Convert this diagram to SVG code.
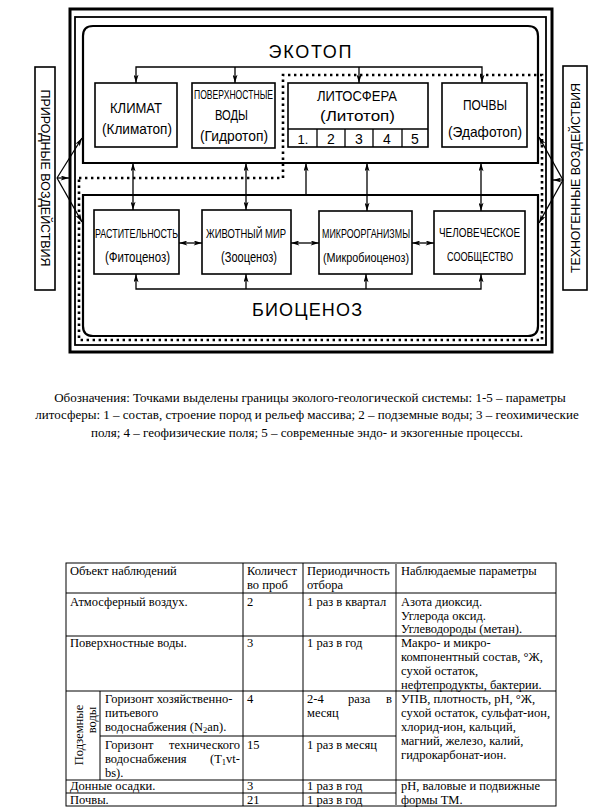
<svg xmlns="http://www.w3.org/2000/svg" width="613" height="809" viewBox="0 0 613 809">
<style>
.frame{fill:none;stroke:#000}
.box{fill:#fff;stroke:#000;stroke-width:1.6}
.dl{font-family:"Liberation Sans",Arial,sans-serif;fill:#000;text-anchor:middle}
.ln{fill:none;stroke:#000;stroke-width:1.3}
.dots{fill:none;stroke:#000;stroke-width:2.6;stroke-dasharray:2.4 3.6}
.tt{font-family:"Liberation Serif","Times New Roman",serif;font-size:12.5px;fill:#000}
.cap{font-family:"Liberation Serif","Times New Roman",serif;font-size:13px;fill:#000;text-anchor:middle}
.tl{stroke:#000;stroke-width:1;fill:none}
</style>
<defs>
<marker id="ah" viewBox="0 0 10 6" refX="10" refY="3" markerWidth="9" markerHeight="5" orient="auto-start-reverse" markerUnits="userSpaceOnUse"><path d="M0,0 L10,3 L0,6 L2.5,3 z" fill="#000"/></marker>
</defs>
<rect width="613" height="809" fill="#fff"/>

<g id="frames">
<rect class="frame" x="70" y="9" width="482" height="343" stroke-width="3"/>
<rect class="frame" x="75" y="17" width="471" height="328" stroke-width="1.8"/>
</g>

<g id="ecotop">
<path class="frame" stroke-width="2.2" d="M83,163 L83,36 Q83,26 93,26 L528,26 Q538,26 538,36 L538,163 Z"/>
<text class="dl" x="310" y="58" font-size="18" textLength="83" lengthAdjust="spacing">ЭКОТОП</text>
</g>

<g id="biocenosis">
<path class="frame" stroke-width="2.2" d="M83,195 L538,195 L538,326 Q538,336 528,336 L93,336 Q83,336 83,326 Z"/>
<text class="dl" x="307" y="316" font-size="18" textLength="110" lengthAdjust="spacing">БИОЦЕНОЗ</text>
</g>

<g id="boundary">
<path class="dots" d="M79,178 L283,178 L283,75 L542,75 L542,340 L79,340 Z"/>
</g>

<g id="climate">
<rect class="box" x="95" y="83" width="82" height="64"/>
<text class="dl" x="136" y="113" font-size="14" textLength="52" lengthAdjust="spacingAndGlyphs">КЛИМАТ</text>
<text class="dl" x="137" y="134" font-size="15" textLength="70" lengthAdjust="spacingAndGlyphs">(Климатоп)</text>
</g>

<g id="surface-water">
<rect class="box" x="192" y="83" width="83" height="65"/>
<text class="dl" x="233.5" y="99" font-size="12" textLength="79" lengthAdjust="spacingAndGlyphs">ПОВЕРХНОСТНЫЕ</text>
<text class="dl" x="231.5" y="120" font-size="14" textLength="33" lengthAdjust="spacingAndGlyphs">ВОДЫ</text>
<text class="dl" x="234" y="141" font-size="15" textLength="68" lengthAdjust="spacingAndGlyphs">(Гидротоп)</text>
</g>

<g id="lithosphere">
<rect class="box" x="288" y="83" width="140" height="64"/>
<line class="ln" x1="288" y1="129" x2="428" y2="129"/>
<line class="ln" x1="317" y1="129" x2="317" y2="147"/>
<line class="ln" x1="345" y1="129" x2="345" y2="147"/>
<line class="ln" x1="373" y1="129" x2="373" y2="147"/>
<line class="ln" x1="402" y1="129" x2="402" y2="147"/>
<text class="dl" x="357" y="101" font-size="15" textLength="80" lengthAdjust="spacingAndGlyphs">ЛИТОСФЕРА</text>
<text class="dl" x="357.5" y="121" font-size="15" textLength="75" lengthAdjust="spacingAndGlyphs">(Литотоп)</text>
<text class="dl" x="303" y="144" font-size="13">1.</text>
<text class="dl" x="331" y="144" font-size="14">2</text>
<text class="dl" x="359" y="144" font-size="14">3</text>
<text class="dl" x="387" y="144" font-size="14">4</text>
<text class="dl" x="415" y="144" font-size="14">5</text>
</g>

<g id="soils">
<rect class="box" x="442" y="83" width="85" height="64"/>
<text class="dl" x="485" y="110" font-size="14" textLength="44" lengthAdjust="spacingAndGlyphs">ПОЧВЫ</text>
<text class="dl" x="485" y="137" font-size="15" textLength="74" lengthAdjust="spacingAndGlyphs">(Эдафотоп)</text>
</g>

<g id="vegetation">
<rect class="box" x="94" y="210" width="85" height="64"/>
<text class="dl" x="136.5" y="238" font-size="12" textLength="83" lengthAdjust="spacingAndGlyphs">РАСТИТЕЛЬНОСТЬ</text>
<text class="dl" x="137.5" y="262" font-size="14" textLength="65" lengthAdjust="spacingAndGlyphs">(Фитоценоз)</text>
</g>

<g id="fauna">
<rect class="box" x="202" y="210" width="89" height="64"/>
<text class="dl" x="246" y="238" font-size="12" textLength="80" lengthAdjust="spacingAndGlyphs">ЖИВОТНЫЙ МИР</text>
<text class="dl" x="249" y="262" font-size="14" textLength="56" lengthAdjust="spacingAndGlyphs">(Зооценоз)</text>
</g>

<g id="microorganisms">
<rect class="box" x="319" y="211" width="93" height="63"/>
<text class="dl" x="366" y="238" font-size="12" textLength="88" lengthAdjust="spacingAndGlyphs">МИКРООРГАНИЗМЫ</text>
<text class="dl" x="366" y="262" font-size="13" textLength="86" lengthAdjust="spacingAndGlyphs">(Микробиоценоз)</text>
</g>

<g id="human-society">
<rect class="box" x="434" y="211" width="91" height="63"/>
<text class="dl" x="479.5" y="237" font-size="12" textLength="81" lengthAdjust="spacingAndGlyphs">ЧЕЛОВЕЧЕСКОЕ</text>
<text class="dl" x="480" y="261" font-size="12" textLength="66" lengthAdjust="spacingAndGlyphs">СООБЩЕСТВО</text>
</g>

<g id="natural-impacts">
<rect class="box" x="35" y="67" width="20" height="223"/>
<text class="dl" transform="translate(45,178) rotate(90)" x="0" y="4.5" font-size="13" textLength="177" lengthAdjust="spacingAndGlyphs">ПРИРОДНЫЕ ВОЗДЕЙСТВИЯ</text>
</g>

<g id="technogenic-impacts">
<rect class="box" x="563" y="66" width="24" height="224"/>
<text class="dl" transform="translate(575,178) rotate(-90)" x="0" y="4.5" font-size="13" textLength="190" lengthAdjust="spacingAndGlyphs">ТЕХНОГЕННЫЕ ВОЗДЕЙСТВИЯ</text>
</g>

<g id="connectors">
<polyline class="ln" points="136,83 136,67 482,67 482,83" marker-start="url(#ah)" marker-end="url(#ah)"/>
<line class="ln" x1="235" y1="67" x2="235" y2="83" marker-end="url(#ah)"/>
<line class="ln" x1="359" y1="67" x2="359" y2="83" marker-end="url(#ah)"/>

<line class="ln" x1="133" y1="163" x2="133" y2="210" marker-start="url(#ah)" marker-end="url(#ah)"/>
<line class="ln" x1="246" y1="163" x2="246" y2="210" marker-start="url(#ah)" marker-end="url(#ah)"/>
<line class="ln" x1="306" y1="195" x2="306" y2="163" marker-end="url(#ah)"/>
<line class="ln" x1="367" y1="163" x2="367" y2="211" marker-start="url(#ah)" marker-end="url(#ah)"/>
<line class="ln" x1="481" y1="163" x2="481" y2="211" marker-start="url(#ah)" marker-end="url(#ah)"/>

<line class="ln" x1="179" y1="243" x2="202" y2="243" marker-start="url(#ah)" marker-end="url(#ah)"/>
<line class="ln" x1="291" y1="243" x2="319" y2="243" marker-start="url(#ah)" marker-end="url(#ah)"/>
<line class="ln" x1="412" y1="243" x2="434" y2="243" marker-start="url(#ah)" marker-end="url(#ah)"/>

<polyline class="ln" points="136,274 136,289 481,289 481,274" marker-start="url(#ah)" marker-end="url(#ah)"/>
<line class="ln" x1="246" y1="289" x2="246" y2="274" marker-end="url(#ah)"/>
<line class="ln" x1="366" y1="289" x2="366" y2="274" marker-end="url(#ah)"/>

<line class="ln" x1="57" y1="178" x2="82" y2="138" marker-end="url(#ah)"/>
<line class="ln" x1="57" y1="178" x2="69" y2="178" marker-end="url(#ah)"/>
<line class="ln" x1="57" y1="178" x2="82" y2="222" marker-end="url(#ah)"/>

<line class="ln" x1="563" y1="180" x2="539" y2="137" marker-end="url(#ah)"/>
<line class="ln" x1="563" y1="180" x2="553" y2="180" marker-end="url(#ah)"/>
<line class="ln" x1="563" y1="180" x2="539" y2="223" marker-end="url(#ah)"/>
</g>

<g id="caption">
<text class="cap" x="310" y="402">Обозначения: Точками выделены границы эколого-геологической системы: 1-5 – параметры</text>
<text class="cap" x="307" y="419">литосферы: 1 – состав, строение пород и рельеф массива; 2 – подземные воды; 3 – геохимические</text>
<text class="cap" x="307" y="437">поля; 4 – геофизические поля; 5 – современные эндо- и экзогенные процессы.</text>
</g>

<g id="table">
<rect class="tl" x="66" y="563" width="490" height="243"/>
<line class="tl" x1="243" y1="563" x2="243" y2="806"/>
<line class="tl" x1="303" y1="563" x2="303" y2="806"/>
<line x1="396" y1="563" x2="396" y2="806" stroke="#888" stroke-width="2"/>
<line class="tl" x1="100" y1="691" x2="100" y2="780"/>
<line class="tl" x1="66" y1="593" x2="556" y2="593"/>
<line class="tl" x1="66" y1="636" x2="556" y2="636"/>
<line class="tl" x1="66" y1="691" x2="556" y2="691"/>
<line class="tl" x1="100" y1="736" x2="396" y2="736"/>
<line class="tl" x1="66" y1="780" x2="556" y2="780"/>
<line class="tl" x1="66" y1="793" x2="396" y2="793"/>

<text class="tt" x="70" y="575">Объект наблюдений</text>
<text class="tt" x="247" y="575">Количест</text>
<text class="tt" x="247" y="589">во проб</text>
<text class="tt" x="307" y="575">Периодичность</text>
<text class="tt" x="307" y="589">отбора</text>
<text class="tt" x="401" y="575">Наблюдаемые параметры</text>

<text class="tt" x="70" y="606">Атмосферный воздух.</text>
<text class="tt" x="247" y="606">2</text>
<text class="tt" x="307" y="606">1 раз в квартал</text>
<text class="tt" x="401" y="606">Азота диоксид.</text>
<text class="tt" x="401" y="620">Углерода оксид.</text>
<text class="tt" x="401" y="633">Углеводороды (метан).</text>

<text class="tt" x="70" y="647">Поверхностные воды.</text>
<text class="tt" x="247" y="647">3</text>
<text class="tt" x="307" y="647">1 раз в год</text>
<text class="tt" x="401" y="647">Макро- и микро-</text>
<text class="tt" x="401" y="661">компонентный состав, °Ж,</text>
<text class="tt" x="401" y="675">сухой остаток,</text>
<text class="tt" x="401" y="689">нефтепродукты, бактерии.</text>

<text class="tt" transform="translate(83,735) rotate(-90)" x="0" y="0" text-anchor="middle">Подземные</text>
<text class="tt" transform="translate(96,720) rotate(-90)" x="0" y="0" text-anchor="middle">воды</text>

<text class="tt" x="105" y="703">Горизонт хозяйственно-</text>
<text class="tt" x="105" y="717">питьевого</text>
<text class="tt" x="105" y="731">водоснабжения (N<tspan font-size="8.5" dy="2">2</tspan><tspan dy="-2">an).</tspan></text>
<text class="tt" x="247" y="703">4</text>
<text class="tt" x="307" y="703">2-4</text>
<text class="tt" x="348" y="703">раза</text>
<text class="tt" x="392" y="703" text-anchor="end">в</text>
<text class="tt" x="307" y="717">месяц</text>
<text class="tt" x="401" y="703">УПВ, плотность, pH, °Ж,</text>
<text class="tt" x="401" y="717">сухой остаток, сульфат-ион,</text>
<text class="tt" x="401" y="731">хлорид-ион, кальций,</text>
<text class="tt" x="401" y="745">магний, железо, калий,</text>
<text class="tt" x="401" y="759">гидрокарбонат-ион.</text>

<text class="tt" x="105" y="749">Горизонт</text>
<text class="tt" x="240" y="749" text-anchor="end">технического</text>
<text class="tt" x="105" y="763">водоснабжения</text>
<text class="tt" x="240" y="763" text-anchor="end">(T<tspan font-size="8.5" dy="2">1</tspan><tspan dy="-2">vt-</tspan></text>
<text class="tt" x="105" y="777">bs).</text>
<text class="tt" x="247" y="749">15</text>
<text class="tt" x="307" y="749">1 раз в месяц</text>

<text class="tt" x="70" y="790">Донные осадки.</text>
<text class="tt" x="247" y="790">3</text>
<text class="tt" x="307" y="790">1 раз в год</text>
<text class="tt" x="401" y="790">pH, валовые и подвижные</text>

<text class="tt" x="70" y="804">Почвы.</text>
<text class="tt" x="247" y="804">21</text>
<text class="tt" x="307" y="804">1 раз в год</text>
<text class="tt" x="401" y="804">формы ТМ.</text>
</g>
</svg>
